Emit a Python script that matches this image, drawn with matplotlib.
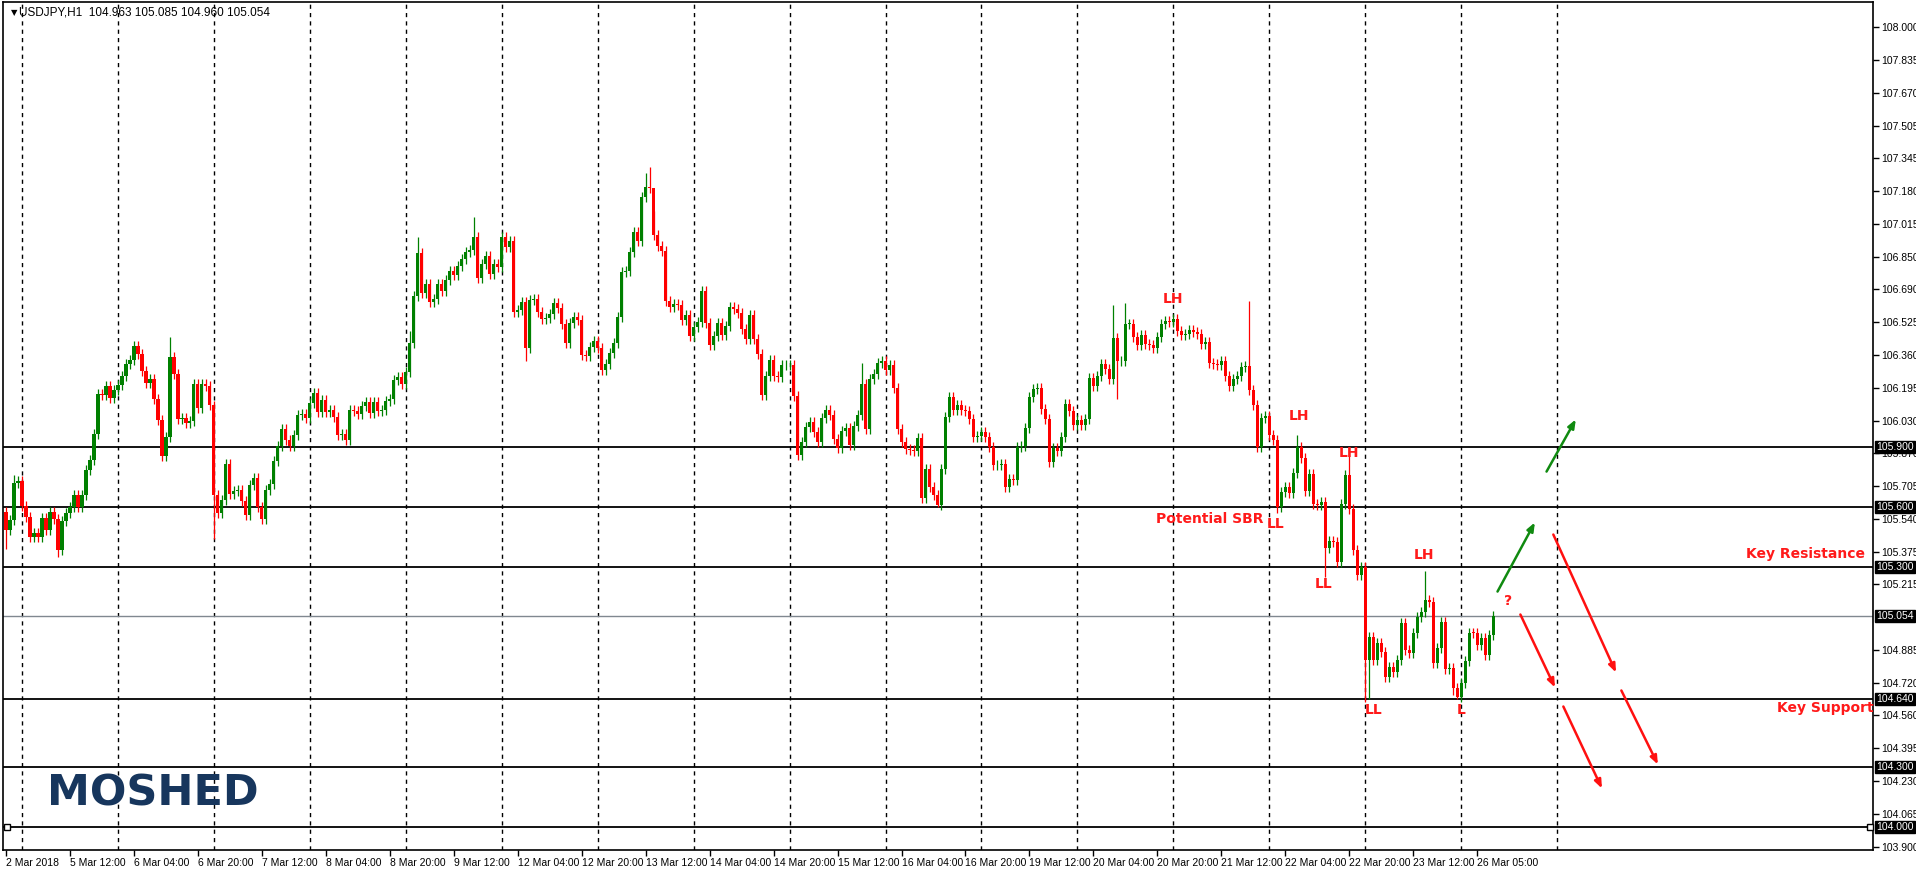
import matplotlib
matplotlib.use("Agg")
import matplotlib.pyplot as plt
import numpy as np

closes = [
105.483,105.533,105.72,105.73,105.605,105.55,105.45,105.47,105.45,105.545,
105.483,105.575,105.538,105.383,105.53,105.57,105.6,105.658,105.6,105.658,
105.783,105.833,105.963,106.163,106.16,106.203,106.145,106.183,106.208,106.255,
106.313,106.333,106.403,106.363,106.278,106.222,106.238,106.142,106.033,105.855,
105.95,106.35,106.267,106.042,106.045,106.022,106.028,106.217,106.097,106.217,
106.203,106.112,105.658,105.572,105.637,105.813,105.667,105.68,105.683,105.63,
105.558,105.708,105.747,105.6,105.542,105.683,105.713,105.83,105.903,105.988,
105.933,105.905,105.958,106.058,106.065,106.047,106.118,106.172,106.075,106.133,
106.075,106.083,106.05,105.962,105.967,105.937,106.083,106.08,106.067,106.105,
106.125,106.072,106.125,106.078,106.083,106.128,106.142,106.233,106.25,106.217,
106.275,106.42,106.655,106.87,106.67,106.713,106.625,106.642,106.713,106.68,
106.733,106.78,106.758,106.805,106.838,106.875,106.883,106.95,106.745,106.813,
106.855,106.767,106.813,106.8,106.95,106.9,106.928,106.575,106.583,106.625,
106.395,106.633,106.638,106.575,106.542,106.547,106.563,106.62,106.597,106.517,
106.42,106.52,106.55,106.533,106.358,106.353,106.4,106.43,106.397,106.287,
106.313,106.37,106.42,106.55,106.775,106.78,106.875,106.975,106.928,107.15,
107.2,107.195,106.958,106.903,106.878,106.628,106.6,106.613,106.608,106.537,
106.558,106.453,106.5,106.525,106.68,106.522,106.412,106.455,106.52,106.458,
106.503,106.6,106.588,106.57,106.492,106.442,106.558,106.442,106.367,106.158,
106.253,106.333,106.253,106.25,106.308,106.308,106.312,106.155,105.858,105.925,
106.0,106.025,105.975,105.925,106.045,106.083,106.062,105.938,105.895,105.978,
105.995,105.908,106.005,106.058,106.213,105.988,106.238,106.263,106.32,106.328,
106.283,106.308,106.197,105.988,105.925,105.892,105.887,105.878,105.947,105.645,
105.792,105.7,105.662,105.612,105.788,106.05,106.15,106.083,106.108,106.083,
106.078,106.038,105.95,105.953,105.975,105.95,105.9,105.808,105.81,105.813,
105.7,105.738,105.735,105.9,105.905,105.995,106.15,106.192,106.195,106.092,
106.038,105.825,105.895,105.878,105.95,106.113,106.08,106.012,106.033,106.012,
106.042,106.245,106.203,106.255,106.313,106.288,106.242,106.445,106.328,106.33,
106.517,106.517,106.45,106.408,106.458,106.417,106.41,106.393,106.452,106.515,
106.532,106.523,106.54,106.48,106.46,106.465,106.485,106.477,106.465,106.413,
106.423,106.318,106.315,106.31,106.33,106.257,106.205,106.24,106.257,106.298,
106.307,106.185,106.11,105.902,106.043,106.055,105.96,105.935,105.602,105.677,
105.702,105.668,105.768,105.898,105.843,105.682,105.763,105.615,105.61,105.627,
105.393,105.43,105.423,105.327,105.615,105.76,105.59,105.385,105.26,105.298,
104.835,104.952,104.835,104.922,104.873,104.752,104.802,104.777,104.835,105.022,
104.885,104.872,104.972,105.052,105.077,105.135,105.127,104.822,104.897,105.023,
104.79,104.793,104.693,104.652,104.718,104.83,104.972,104.97,104.91,104.943,
104.86,104.96,105.054]
first_open = 105.575
high_override = {2: 105.76, 41: 106.45, 52: 106.13, 101: 106.48, 103: 106.95, 117: 107.05,
                 160: 107.27, 161: 107.3, 162: 107.08, 214: 106.32, 277: 106.61,
                 280: 106.62, 311: 106.63, 323: 105.96, 336: 105.86, 355: 105.28}
low_override = {0: 105.39, 13: 105.35, 52: 105.44, 130: 106.33, 229: 105.62, 233: 105.6,
                278: 106.14, 318: 105.57, 330: 105.25, 340: 104.627, 341: 104.64,
                363: 104.64, 362: 104.66}

level_lines = [105.900, 105.600, 105.300, 104.640, 104.300, 104.000]
last_price = 105.054
right_ticks = [108.000,107.835,107.670,107.505,107.345,107.180,107.015,106.850,106.690,
               106.525,106.360,106.195,106.030,105.870,105.705,105.540,105.375,105.215,
               104.885,104.720,104.560,104.395,104.230,104.065,103.900]
time_labels = ["2 Mar 2018","5 Mar 12:00","6 Mar 04:00","6 Mar 20:00","7 Mar 12:00",
               "8 Mar 04:00","8 Mar 20:00","9 Mar 12:00","12 Mar 04:00","12 Mar 20:00",
               "13 Mar 12:00","14 Mar 04:00","14 Mar 20:00","15 Mar 12:00","16 Mar 04:00",
               "16 Mar 20:00","19 Mar 12:00","20 Mar 04:00","20 Mar 20:00","21 Mar 12:00",
               "22 Mar 04:00","22 Mar 20:00","23 Mar 12:00","26 Mar 05:00"]
labels = [("LH", 292, 106.64), ("LH", 323.5, 106.055), ("LH", 336, 105.87),
          ("LL", 317.5, 105.515), ("Potential SBR", 301, 105.54), ("LL", 329.7, 105.215),
          ("LH", 354.7, 105.36), ("LL", 342, 104.585), ("L", 364, 104.585),
          ("?", 375.7, 105.13), ("Key Resistance", 450, 105.365), ("Key Support", 455, 104.595)]
green_arrows = [((372.75, 105.165), (382.75, 105.535)), ((385, 105.765), (393, 106.05))]
red_arrows = [((378.5, 105.075), (387.75, 104.685)), ((389.25, 104.615), (399.5, 104.18)),
              ((386.75, 105.475), (403, 104.76)), ((403.75, 104.695), (413.5, 104.30))]

W, H = 1916, 871
fig = plt.figure(figsize=(W/100, H/100), dpi=100)
ax = fig.add_axes([3/W, (H-850)/H, (1873-3)/W, 848/H])
ax.set_xlim(-0.75, 467.0)
ax.set_ylim(103.885, 108.125)

n = len(closes)
opens = [first_open] + closes[:-1]
for i in range(n):
    o, c = opens[i], closes[i]
    hi = high_override.get(i, max(o, c) + 0.025)
    lo = low_override.get(i, min(o, c) - 0.025)
    col = '#008000' if c >= o else '#ff0000'
    ax.vlines(i, lo, hi, color=col, lw=0.9, zorder=3)
    body = max(abs(c - o), 0.004)
    ax.bar(i, body, bottom=min(o, c), width=0.8, color=col, lw=0, zorder=4)

for g in range(4, 389, 24):
    ax.axvline(g, color='black', lw=1.0, ls=(0, (3, 3)), zorder=1)
for lv in level_lines:
    ax.axhline(lv, color='black', lw=1.3, zorder=2)
ax.axhline(last_price, color='#808890', lw=1.0, zorder=2)
ax.plot([0.2], [104.0], marker='s', ms=5, mfc='white', mec='black', mew=1, zorder=5, clip_on=False)
ax.plot([466.3], [104.0], marker='s', ms=5, mfc='white', mec='black', mew=1, zorder=5, clip_on=False)

for t, x, y in labels:
    ax.text(x, y, t, color='#ff1a1a', fontsize=10, fontweight='bold', ha='center', va='center', zorder=6)
for (x0, y0), (x1, y1) in green_arrows:
    ax.annotate('', xy=(x1, y1), xytext=(x0, y0),
                arrowprops=dict(arrowstyle='-|>,head_length=0.5,head_width=0.2', color='#108a10', lw=1.8))
for (x0, y0), (x1, y1) in red_arrows:
    ax.annotate('', xy=(x1, y1), xytext=(x0, y0),
                arrowprops=dict(arrowstyle='-|>,head_length=0.5,head_width=0.2', color='#ff1010', lw=1.8))

ax.text(10.3, 104.17, "MOSHED", color='#17365d', fontsize=31, fontweight='bold', ha='left', va='center')

ax.text(0.004, 0.988, "\u25BC", transform=ax.transAxes, fontsize=6, va='center', ha='left', color='black')
ax.text(0.0085, 0.988, "USDJPY,H1  104.963 105.085 104.960 105.054", transform=ax.transAxes,
        fontsize=8.5, va='center', ha='left', color='black', family='Liberation Sans')

ax.yaxis.tick_right()
ax.set_yticks(right_ticks)
ax.set_yticklabels([f"{v:.3f}" for v in right_ticks], fontsize=7.5, family='Liberation Sans')
ax.tick_params(axis='y', length=4, width=1, pad=2)
for lv in level_lines + [last_price]:
    ax.text(1.0017, lv, f"{lv:.3f}", transform=ax.get_yaxis_transform(), fontsize=7.5,
            family='Liberation Sans', color='white', va='center', ha='left', zorder=10, clip_on=False,
            bbox=dict(boxstyle='square,pad=0.12', fc='black', ec='black'))
ax.set_xticks(np.arange(0, 16*len(time_labels), 16))
ax.set_xticklabels(time_labels, fontsize=7.5, ha='left', family='Liberation Sans')
ax.tick_params(axis='x', length=4, width=1, pad=2)
for s in ax.spines.values():
    s.set_linewidth(1.2)
fig.savefig("out.png", dpi=100)
